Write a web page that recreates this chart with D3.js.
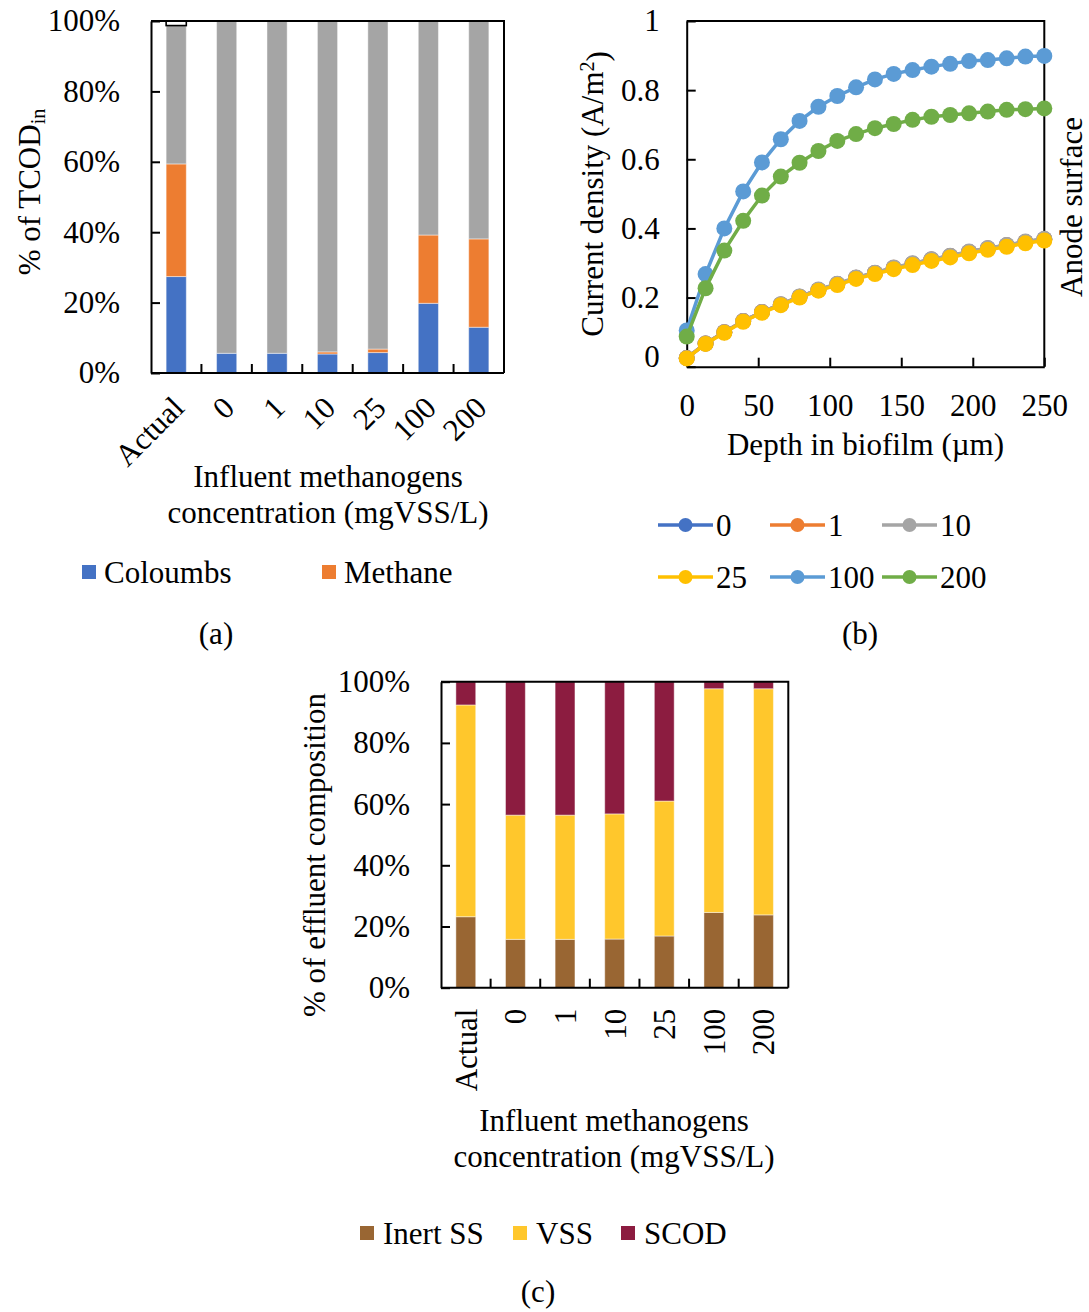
<!DOCTYPE html>
<html><head><meta charset="utf-8">
<script src="https://cdn.jsdelivr.net/npm/d3@7"></script>
<style>
html,body{margin:0;padding:0;background:#fff;}
svg text{font-family:"Liberation Serif","Times New Roman",serif;fill:#000;}
</style></head><body>
<svg id="fig" width="1089" height="1312"></svg>
<script>
// ---------- (a) fate of influent TCOD (% of TCOD_in) ----------
const catsA = ["Actual", "0", "1", "10", "25", "100", "200"];
const coulombs = [27.4, 5.6, 5.6, 5.4, 5.8, 19.8, 13.0];
const methane  = [32.0, 0.0, 0.0, 0.6, 1.0, 19.4, 25.1];
const residual = [39.3, 94.4, 94.4, 94.0, 93.2, 60.8, 61.9];
const unknown  = [1.3, 0, 0, 0, 0, 0, 0];
const pctTicks = [0, 20, 40, 60, 80, 100];

// ---------- (b) current density profile across the biofilm ----------
const depth = [0, 13.2, 26.3, 39.5, 52.6, 65.8, 78.9, 92.1, 105.3, 118.4,
               131.6, 144.7, 157.9, 171.1, 184.2, 197.4, 210.5, 223.7, 236.8, 250];
const cd0   = [0.025, 0.067, 0.100, 0.132, 0.158, 0.180, 0.202, 0.222, 0.239, 0.257,
               0.271, 0.285, 0.298, 0.310, 0.320, 0.332, 0.342, 0.351, 0.361, 0.369];
const cd1   = [0.025, 0.067, 0.100, 0.132, 0.158, 0.180, 0.202, 0.222, 0.239, 0.257,
               0.271, 0.286, 0.298, 0.310, 0.320, 0.332, 0.342, 0.351, 0.361, 0.369];
const cd10  = [0.025, 0.067, 0.100, 0.132, 0.158, 0.181, 0.203, 0.223, 0.240, 0.258,
               0.272, 0.287, 0.299, 0.311, 0.321, 0.333, 0.343, 0.352, 0.362, 0.370];
const cd25  = [0.024, 0.066, 0.098, 0.130, 0.156, 0.178, 0.200, 0.220, 0.236, 0.254,
               0.268, 0.282, 0.294, 0.306, 0.316, 0.328, 0.338, 0.347, 0.357, 0.365];
const cd100 = [0.105, 0.268, 0.400, 0.507, 0.591, 0.658, 0.711, 0.752, 0.783, 0.808,
               0.831, 0.847, 0.858, 0.868, 0.876, 0.884, 0.887, 0.892, 0.897, 0.899];
const cd200 = [0.087, 0.227, 0.336, 0.422, 0.495, 0.550, 0.590, 0.624, 0.653, 0.673,
               0.690, 0.702, 0.714, 0.723, 0.728, 0.733, 0.738, 0.743, 0.745, 0.747];
const depthTicks = [0, 50, 100, 150, 200, 250];
const cdTicks = [0, 0.2, 0.4, 0.6, 0.8, 1];

// ---------- (c) effluent composition ----------
const catsC = ["Actual", "0", "1", "10", "25", "100", "200"];
const inertSS = [23.2, 15.8, 15.8, 15.9, 16.9, 24.6, 23.8];
const vss     = [69.2, 40.6, 40.6, 40.9, 44.1, 73.1, 73.9];
const scod    = [7.6, 43.6, 43.6, 43.2, 39.0, 2.3, 2.3];

const FS = 31;
const svg = d3.select("#fig");

function styleAxis(g) {
  g.select(".domain").attr("stroke", "#000").attr("stroke-width", 2);
  g.selectAll(".tick line").attr("stroke", "#000").attr("stroke-width", 2);
  g.selectAll(".tick text").attr("font-size", FS)
    .attr("font-family", '"Liberation Serif","Times New Roman",serif').attr("fill", "#000");
}

function stackedPanel(o) {
  const g = svg.append("g");
  const keys = o.series.map(s => s.key);
  const rows = o.cats.map((c, i) => {
    const r = {cat: c};
    o.series.forEach(s => { r[s.key] = s.values[i]; });
    return r;
  });
  const stacked = d3.stack().keys(keys)(rows);
  const x = d3.scaleBand().domain(o.cats).range([o.left, o.right])
    .paddingInner(0.6).paddingOuter(0.3);
  const y = d3.scaleLinear().domain([0, 100]).range([o.bottom, o.top]);

  stacked.forEach((layer, li) => {
    const s = o.series[li];
    g.append("g").selectAll("rect")
      .data(layer.filter(d => d[1] - d[0] > 0))
      .join("rect")
      .attr("x", d => x(d.data.cat))
      .attr("width", x.bandwidth())
      .attr("y", d => y(d[1]))
      .attr("height", d => y(d[0]) - y(d[1]))
      .attr("fill", s.fill)
      .attr("stroke", s.stroke || "#fff")
      .attr("stroke-opacity", s.stroke ? 1 : 0.45)
      .attr("stroke-width", s.stroke ? 1.6 : 1);
  });

  // box: top and right edges
  g.append("path")
    .attr("d", `M${o.left},${o.top}H${o.right}V${o.bottom}`)
    .attr("fill", "none").attr("stroke", "#000").attr("stroke-width", 2);

  // y axis
  g.append("g").attr("transform", `translate(${o.left},0)`)
    .call(d3.axisLeft(y).tickValues(pctTicks).tickFormat(d => d + "%")
      .tickSizeInner(-9).tickSizeOuter(0).tickPadding(o.yPad))
    .call(styleAxis);

  // x axis line with ticks between categories
  g.append("line").attr("x1", o.left).attr("x2", o.right)
    .attr("y1", o.bottom).attr("y2", o.bottom)
    .attr("stroke", "#000").attr("stroke-width", 2);
  const step = x.step();
  g.append("g").selectAll("line")
    .data(o.cats.slice(0, -1))
    .join("line")
    .attr("x1", d => x(d) + x.bandwidth() / 2 + step / 2)
    .attr("x2", d => x(d) + x.bandwidth() / 2 + step / 2)
    .attr("y1", o.bottom).attr("y2", o.bottom - 9)
    .attr("stroke", "#000").attr("stroke-width", 2);

  g.append("g").selectAll("text")
    .data(o.cats)
    .join("text")
    .attr("transform", d => `translate(${x(d) + x.bandwidth() / 2 + o.labDx},${o.bottom + o.labDy}) rotate(${o.rot})`)
    .attr("text-anchor", "end").attr("dy", "0.35em")
    .attr("font-size", FS)
    .text(d => d);
  return {g, x, y};
}

// ===== panel (a) =====
const A = stackedPanel({
  left: 151, right: 504, top: 21, bottom: 373,
  cats: catsA, yPad: 31, rot: -45, labDx: 2, labDy: 29,
  series: [
    {key: "Coloumbs", values: coulombs, fill: "#4472C4"},
    {key: "Methane", values: methane, fill: "#ED7D31"},
    {key: "Residual", values: residual, fill: "#A5A5A5"},
    {key: "Unknown", values: unknown, fill: "#fff", stroke: "#000"}
  ]
});
// y title with subscript
const ta = svg.append("text")
  .attr("transform", "translate(40,192) rotate(-90)")
  .attr("text-anchor", "middle").attr("font-size", FS);
ta.append("tspan").text("% of TCOD");
ta.append("tspan").attr("dy", "0.25em").attr("font-size", FS * 0.65).text("in");
svg.append("text").attr("x", 328).attr("y", 487).attr("text-anchor", "middle")
  .attr("font-size", FS).text("Influent methanogens");
svg.append("text").attr("x", 328).attr("y", 523).attr("text-anchor", "middle")
  .attr("font-size", FS).text("concentration (mgVSS/L)");
const legA = [{name: "Coloumbs", fill: "#4472C4", x: 82}, {name: "Methane", fill: "#ED7D31", x: 322}];
legA.forEach(l => {
  svg.append("rect").attr("x", l.x).attr("y", 565).attr("width", 14).attr("height", 14).attr("fill", l.fill);
  svg.append("text").attr("x", l.x + 22).attr("y", 572).attr("dy", "0.35em")
    .attr("font-size", FS).text(l.name);
});
svg.append("text").attr("x", 216).attr("y", 633).attr("dy", "0.35em")
  .attr("text-anchor", "middle").attr("font-size", FS).text("(a)");

// ===== panel (b) =====
const bL = 686.7, bR = 1044.3, bT = 21, bB = 366.7;
const xB = d3.scaleLinear().domain([0, 250]).range([bL, bR]);
const yB = d3.scaleLinear().domain([0, 1]).range([bB, bT]);
const gB = svg.append("g");
gB.append("path").attr("d", `M${bL},${bT}H${bR}V${bB}`)
  .attr("fill", "none").attr("stroke", "#000").attr("stroke-width", 2);
gB.append("g").attr("transform", `translate(${bL},0)`)
  .call(d3.axisLeft(yB).tickValues(cdTicks)
    .tickFormat(d => (d === 0 || d === 1) ? String(d) : d.toFixed(1))
    .tickSizeInner(-9).tickSizeOuter(0).tickPadding(27))
  .call(styleAxis)
  .call(g => g.selectAll(".tick text").filter(d => d === 0).attr("y", -10));
gB.append("g").attr("transform", `translate(0,${bB})`)
  .call(d3.axisBottom(xB).tickValues(depthTicks).tickFormat(d3.format("d"))
    .tickSizeInner(-9).tickSizeOuter(0).tickPadding(27))
  .call(styleAxis);

const seriesB = [
  {name: "0", values: cd0, color: "#4472C4"},
  {name: "1", values: cd1, color: "#ED7D31"},
  {name: "10", values: cd10, color: "#A5A5A5"},
  {name: "25", values: cd25, color: "#FFC000"},
  {name: "100", values: cd100, color: "#5B9BD5"},
  {name: "200", values: cd200, color: "#70AD47"}
];
const lineB = d3.line().x((d, i) => xB(depth[i])).y(d => yB(d));
seriesB.forEach(s => {
  const gs = gB.append("g");
  gs.append("path").attr("d", lineB(s.values)).attr("fill", "none")
    .attr("stroke", s.color).attr("stroke-width", 3.5);
  gs.selectAll("circle").data(s.values).join("circle")
    .attr("cx", (d, i) => xB(depth[i])).attr("cy", d => yB(d))
    .attr("r", 8).attr("fill", s.color);
});
svg.append("text").attr("transform", `translate(603,${(bT + bB) / 2}) rotate(-90)`)
  .attr("text-anchor", "middle").attr("font-size", FS)
  .call(t => {
    t.append("tspan").text("Current density (A/m");
    t.append("tspan").attr("dy", "-0.45em").attr("font-size", FS * 0.65).text("2");
    t.append("tspan").attr("dy", "0.45em").text(")");
  });
svg.append("text").attr("x", (bL + bR) / 2).attr("y", 455).attr("text-anchor", "middle")
  .attr("font-size", FS).text("Depth in biofilm (\u00b5m)");
svg.append("text").attr("transform", "translate(1082,207) rotate(-90)")
  .attr("text-anchor", "middle").attr("font-size", FS).text("Anode surface");
// legend: 3 columns x 2 rows
const legColX = [658, 770, 882], legRowY = [525, 577];
seriesB.forEach((s, i) => {
  const lx = legColX[i % 3], ly = legRowY[Math.floor(i / 3)];
  svg.append("line").attr("x1", lx).attr("x2", lx + 55).attr("y1", ly).attr("y2", ly)
    .attr("stroke", s.color).attr("stroke-width", 3.5);
  svg.append("circle").attr("cx", lx + 27.5).attr("cy", ly).attr("r", 7).attr("fill", s.color);
  svg.append("text").attr("x", lx + 58).attr("y", ly).attr("dy", "0.35em")
    .attr("font-size", FS).text(s.name);
});
svg.append("text").attr("x", 860).attr("y", 633).attr("dy", "0.35em")
  .attr("text-anchor", "middle").attr("font-size", FS).text("(b)");

// ===== panel (c) =====
const C = stackedPanel({
  left: 441, right: 788.3, top: 681.7, bottom: 987.7,
  cats: catsC, yPad: 31, rot: -90, labDx: 0, labDy: 21,
  series: [
    {key: "Inert SS", values: inertSS, fill: "#996633"},
    {key: "VSS", values: vss, fill: "#FFC72C"},
    {key: "SCOD", values: scod, fill: "#8C1C40"}
  ]
});
svg.append("text").attr("transform", "translate(325,855) rotate(-90)")
  .attr("text-anchor", "middle").attr("font-size", FS).text("% of effluent composition");
svg.append("text").attr("x", 614).attr("y", 1131).attr("text-anchor", "middle")
  .attr("font-size", FS).text("Influent methanogens");
svg.append("text").attr("x", 614).attr("y", 1167).attr("text-anchor", "middle")
  .attr("font-size", FS).text("concentration (mgVSS/L)");
const legC = [{name: "Inert SS", fill: "#996633", x: 360}, {name: "VSS", fill: "#FFC72C", x: 513},
              {name: "SCOD", fill: "#8C1C40", x: 621}];
legC.forEach(l => {
  svg.append("rect").attr("x", l.x).attr("y", 1226).attr("width", 14).attr("height", 14).attr("fill", l.fill);
  svg.append("text").attr("x", l.x + 23).attr("y", 1233).attr("dy", "0.35em")
    .attr("font-size", FS).text(l.name);
});
svg.append("text").attr("x", 538).attr("y", 1302).attr("text-anchor", "middle")
  .attr("font-size", FS).text("(c)");
</script>
</body></html>
